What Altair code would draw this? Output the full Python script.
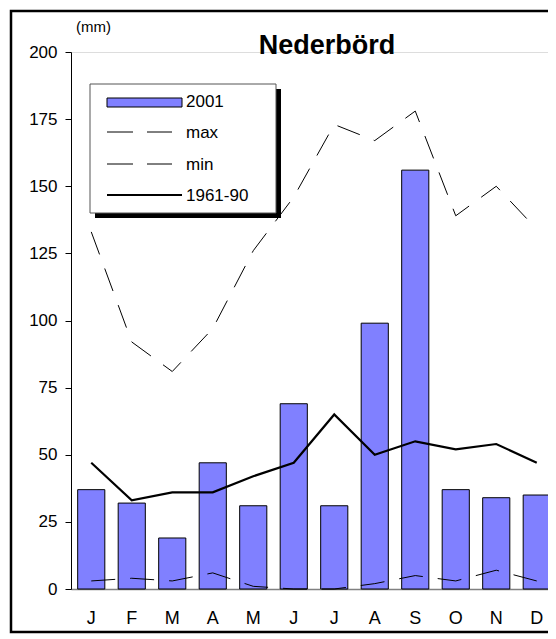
import json
import altair as alt
import pandas as pd

# ---- data ----
month_keys = ["Jan", "Feb", "Mar", "Apr", "May", "Jun", "Jul", "Aug", "Sep", "Oct", "Nov", "Dec"]
month_labels = ["J", "F", "M", "A", "M", "J", "J", "A", "S", "O", "N", "D"]
p2001 = [37, 32, 19, 47, 31, 69, 31, 99, 156, 37, 34, 35]
pmax = [133, 92, 81, 97, 126, 146, 173, 167, 178, 139, 150, 134]
pmin = [3, 4, 3, 6, 1, 0, 0, 2, 5, 3, 7, 3]
p6190 = [47, 33, 36, 36, 42, 47, 65, 50, 55, 52, 54, 47]
y_ticks = [0, 25, 50, 75, 100, 125, 150, 175, 200]
legend_labels = ["2001", "max", "min", "1961-90"]
title_text = "Nederbörd"
unit_text = "(mm)"

df = pd.DataFrame({
    "month": month_keys,
    "p2001": p2001,
    "pmax": pmax,
    "pmin": pmin,
    "p6190": p6190,
})
one = pd.DataFrame({"k": [0]})

FONT = "Liberation Sans"
BAR = "#8080FF"
DASH = [24, 15]

label_expr = f"{json.dumps(month_labels)}[indexof({json.dumps(month_keys)}, datum.value)]"

x_enc = alt.X(
    "month:N",
    sort=month_keys,
    scale=alt.Scale(paddingInner=0.33, paddingOuter=0.165, range=[0, 486]),
    axis=alt.Axis(
        title=None, labelExpr=label_expr, ticks=False, tickSize=0,
        domainColor="#808080", domainWidth=1.5, labelAngle=0,
        labelFontSize=18, labelPadding=20, labelColor="black", labelFont=FONT,
    ),
)
y_scale = alt.Scale(domain=[0, 200], nice=False)
y_axis = alt.Axis(
    title=None, values=y_ticks, grid=False, tickSize=6, tickColor="black",
    domainColor="black", labelFontSize=17, labelPadding=8, labelColor="black",
    labelFont=FONT,
)

base = alt.Chart(df)

bars = base.mark_bar(color=BAR, stroke="black", strokeWidth=1).encode(
    x=x_enc, y=alt.Y("p2001:Q", scale=y_scale, axis=y_axis)
)
line_max = base.mark_line(color="black", strokeWidth=1, strokeDash=DASH).encode(
    x=x_enc, y=alt.Y("pmax:Q", scale=y_scale)
)
line_min = base.mark_line(color="black", strokeWidth=1, strokeDash=DASH).encode(
    x=x_enc, y=alt.Y("pmin:Q", scale=y_scale)
)
line_norm = base.mark_line(color="black", strokeWidth=2.2).encode(
    x=x_enc, y=alt.Y("p6190:Q", scale=y_scale)
)

deco = alt.Chart(one)

frame = deco.mark_rect(fill=None, stroke="black", strokeWidth=2.5).encode(
    x=alt.value(-60), x2=alt.value(540), y=alt.value(-41), y2=alt.value(580)
)
title = deco.mark_text(
    text=title_text, font=FONT, fontSize=27, fontWeight="bold",
    align="center", baseline="alphabetic", color="black",
).encode(x=alt.value(256), y=alt.value(2))
unit = deco.mark_text(
    text=unit_text, font=FONT, fontSize=15, align="left",
    baseline="alphabetic", color="black",
).encode(x=alt.value(5), y=alt.value(-20))

leg_shadow = deco.mark_rect(fill="black").encode(
    x=alt.value(24), x2=alt.value(210), y=alt.value(37), y2=alt.value(166)
)
leg_box = deco.mark_rect(fill="white", stroke="#555555", strokeWidth=1).encode(
    x=alt.value(19), x2=alt.value(205), y=alt.value(32), y2=alt.value(161)
)
leg_swatch = deco.mark_rect(fill=BAR, stroke="black", strokeWidth=1).encode(
    x=alt.value(36), x2=alt.value(111), y=alt.value(46), y2=alt.value(55)
)
leg_max = deco.mark_rule(color="black", strokeWidth=1, strokeDash=[26, 14]).encode(
    x=alt.value(36), x2=alt.value(101), y=alt.value(80)
)
leg_min = deco.mark_rule(color="black", strokeWidth=1, strokeDash=[26, 14]).encode(
    x=alt.value(36), x2=alt.value(101), y=alt.value(112)
)
leg_norm = deco.mark_rule(color="black", strokeWidth=2.2).encode(
    x=alt.value(36), x2=alt.value(111), y=alt.value(143)
)
leg_texts = []
for lab, yy in zip(legend_labels, [50, 81, 113, 144]):
    leg_texts.append(
        deco.mark_text(
            text=lab, font=FONT, fontSize=17, align="left",
            baseline="middle", color="black",
        ).encode(x=alt.value(115), y=alt.value(yy))
    )

chart = alt.layer(
    frame, bars, line_max, line_min, line_norm,
    leg_shadow, leg_box, leg_swatch, leg_max, leg_min, leg_norm, *leg_texts,
    title, unit,
).properties(
    width=477,
    height=537,
    padding={"left": 63, "top": 44, "right": 0, "bottom": 47},
    autosize=alt.AutoSizeParams(type="none"),
    background="white",
).configure_view(stroke=None).configure(font=FONT)

chart.save("out.html", embed_options={"renderer": "svg", "actions": False})
